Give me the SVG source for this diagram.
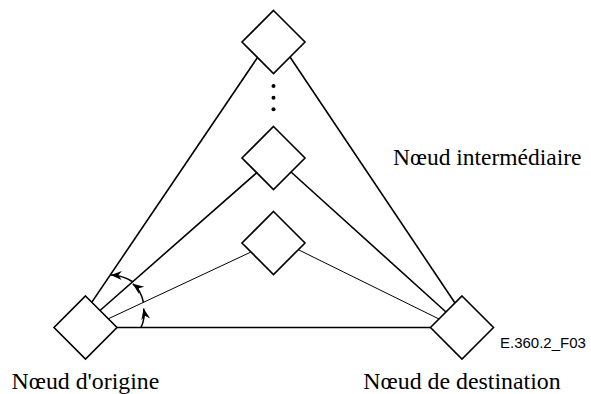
<svg xmlns="http://www.w3.org/2000/svg" width="591" height="394" viewBox="0 0 591 394">
  <style>
    .node { fill: #fff; stroke: #000; stroke-width: 1.6; }
    .link { fill: none; stroke: #000; stroke-width: 1.6; }
    .thin { stroke-width: 1; }
    .angle { fill: none; stroke: #000; stroke-width: 1.5; marker-end: url(#head); }
    .label { font-family: "Liberation Serif", "Times New Roman", serif; font-size: 23px; fill: #000; }
    .ref { font-family: "Liberation Sans", Arial, sans-serif; font-size: 15px; fill: #000; }
  </style>
  <defs>
    <marker id="head" markerUnits="userSpaceOnUse" markerWidth="14" markerHeight="12" viewBox="-12 -6 14 12" refX="0" refY="0" orient="auto">
      <path d="M0,0 L-11,-4.5 L-7.5,0 L-11,4.5 Z" fill="#000"/>
    </marker>
  </defs>
  <rect width="591" height="394" fill="#fff"/>

  <g id="connectors">
    <line class="link" x1="91.7" y1="302.4" x2="257.5" y2="57.5"/>
    <line class="link" x1="100" y1="310.5" x2="256.7" y2="172.7"/>
    <line class="link thin" x1="108.3" y1="318.8" x2="251" y2="252"/>
    <line class="link" x1="117" y1="327.5" x2="430.5" y2="327.5"/>
    <line class="link" x1="290" y1="57" x2="455" y2="303"/>
    <line class="link" x1="291" y1="172" x2="446" y2="312"/>
    <line class="link thin" x1="298.3" y1="249.7" x2="439" y2="319"/>
    <!-- angle sweep arrows -->
    <path class="angle" d="M141,327.5 Q145.5,318 143.6,308.5"/>
    <path class="angle" d="M143.5,302.5 Q141,290 132.8,283.8"/>
    <path class="angle" d="M132.3,281.5 Q123,275.5 110.8,275"/>
  </g>

  <g id="node-top">
    <polygon class="node" points="273.5,10.5 305,42 273.5,73.5 242,42"/>
  </g>
  <g id="ellipsis">
    <circle cx="273.5" cy="86" r="2"/>
    <circle cx="273.5" cy="97.7" r="2"/>
    <circle cx="273.5" cy="109.3" r="2"/>
  </g>
  <g id="node-mid">
    <polygon class="node" points="273.5,126.5 305,158 273.5,189.5 242,158"/>
  </g>
  <g id="node-low">
    <polygon class="node" points="273.5,211.5 305,243 273.5,274.5 242,243"/>
  </g>
  <g id="node-origin">
    <polygon class="node" points="85.5,296 117,327.5 85.5,359 54,327.5"/>
  </g>
  <g id="node-destination">
    <polygon class="node" points="462,296 493.5,327.5 462,359 430.5,327.5"/>
  </g>

  <text class="label" x="393" y="165" textLength="188.5" lengthAdjust="spacingAndGlyphs">Nœud intermédiaire</text>
  <text class="label" x="11.5" y="389" textLength="147.8" lengthAdjust="spacingAndGlyphs">Nœud d'origine</text>
  <text class="label" x="363.3" y="389.3" textLength="197.4" lengthAdjust="spacingAndGlyphs">Nœud de destination</text>
  <text class="ref" x="500" y="348.3">E.360.2_F03</text>
</svg>
